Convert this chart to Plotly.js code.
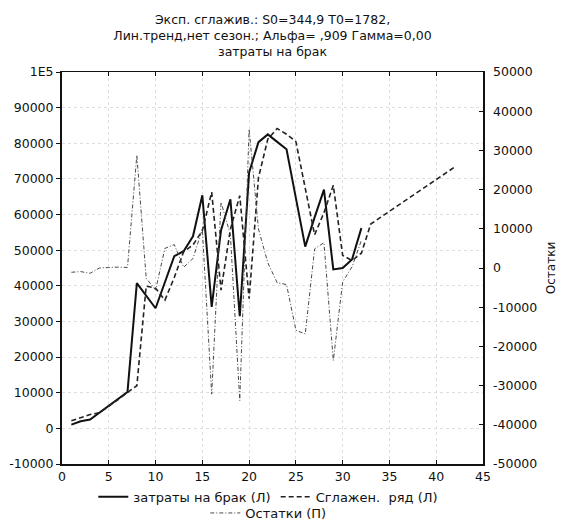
<!DOCTYPE html>
<html>
<head>
<meta charset="utf-8">
<script src="https://cdn.plot.ly/plotly-3.0.1.min.js"></script>
<style>
  html, body { margin: 0; padding: 0; background: #ffffff; }
  #chart { width: 567px; height: 524px; }
</style>
</head>
<body>
<div id="chart"></div>
<script>
// Observed periods and the forecast horizon (10 steps past the last observation)
const periods = [1, 2, 3, 4, 5, 6, 7, 8, 9, 10, 11, 12, 13, 14, 15, 16,
                 17, 18, 19, 20, 21, 22, 23, 24, 25, 26, 27, 28, 29, 30, 31, 32];
const forecastPeriods = [1, 2, 3, 4, 5, 6, 7, 8, 9, 10, 11, 12, 13, 14, 15, 16,
                         17, 18, 19, 20, 21, 22, 23, 24, 25, 26, 27, 28, 29, 30, 31, 32,
                         33, 34, 35, 36, 37, 38, 39, 40, 41, 42];

// затраты на брак (left axis)
const defectCosts = [1040, 2000, 2500, 4400, 6300, 8300, 10200, 40760, 37300, 33700,
                     41000, 48300, 49700, 53900, 65400, 34100, 55600, 64300, 31500, 71800,
                     80300, 82500, 80400, 78300, 64600, 51000, 59200, 67000, 44600, 45000,
                     47400, 56200];

// Сглаженный ряд: one-step forecasts, then the linear-trend continuation (left axis)
const smoothedSeries = [2127, 2921, 3866, 4406, 6183, 8071, 10061, 11969, 39922, 39321,
                        35994, 42326, 49538, 51467, 55461, 66278, 38810, 55854, 65313, 36359,
                        70357, 81177, 84162, 82524, 80466, 67826, 54313, 60537, 68194, 48529,
                        47103, 49155, 57341, 59123, 60905, 62687, 64469, 66251, 68033, 69815,
                        71597, 73379];

// Остатки (right axis)
const residuals = [-1087, -921, -1366, -6, 117, 229, 139, 28791, -2622, -5621,
                   5007, 5974, 162, 2433, 9939, -32178, 16790, 8446, -33813, 35441,
                   9943, 1323, -3762, -4224, -15866, -16826, 4887, 6463, -23594, -3529,
                   297, 7045];

// Axis ticks
const xTickVals = [0, 5, 10, 15, 20, 25, 30, 35, 40, 45];
const leftTickVals = [-10000, 0, 10000, 20000, 30000, 40000, 50000, 60000, 70000, 80000, 90000, 100000];
const leftTickText = ['-10000', '0', '10000', '20000', '30000', '40000', '50000',
                      '60000', '70000', '80000', '90000', '1E5'];
const rightTickVals = [-50000, -40000, -30000, -20000, -10000, 0, 10000, 20000, 30000, 40000, 50000];
const rightTickText = ['-50000', '-40000', '-30000', '-20000', '-10000', '0',
                       '10000', '20000', '30000', '40000', '50000'];

const titleLines = [
  'Эксп. сглажив.: S0=344,9 T0=1782,',
  'Лин.тренд,нет сезон.; Альфа= ,909 Гамма=0,00',
  'затраты на брак'
];

const FONT = 'DejaVu Sans, Verdana, sans-serif';
const INK = '#111111';

const traces = [
  {
    x: periods, y: residuals, yaxis: 'y2',
    name: 'Остатки (П)', legend: 'legend2',
    mode: 'lines',
    line: { color: '#4a4a4a', width: 1, dash: '4px,2px,1px,2px' }
  },
  {
    x: periods, y: defectCosts, yaxis: 'y',
    name: 'затраты на брак (Л)', legend: 'legend',
    mode: 'lines',
    line: { color: INK, width: 2 }
  },
  {
    x: forecastPeriods, y: smoothedSeries, yaxis: 'y',
    name: 'Сглажен.  ряд (Л)', legend: 'legend',
    mode: 'lines',
    line: { color: '#222222', width: 1.6, dash: '5px,3px' }
  }
];

const gridStyle = { showgrid: true, gridcolor: '#dedede', griddash: 'dot', gridwidth: 1 };

const layout = {
  width: 567, height: 524,
  paper_bgcolor: '#ffffff', plot_bgcolor: '#ffffff',
  margin: { l: 62, r: 84, t: 72, b: 60, pad: 0, autoexpand: false },
  font: { family: FONT, color: INK, size: 12 },
  title: {
    text: titleLines.join('<br>'),
    font: { family: FONT, size: 12.5, color: INK },
    xref: 'paper', x: 0.5, xanchor: 'center',
    yref: 'container', y: 0.955, yanchor: 'top'
  },
  xaxis: Object.assign({
    range: [0, 45], tickvals: xTickVals,
    ticks: 'inside', ticklen: 4, tickcolor: INK,
    showline: true, linecolor: INK, linewidth: 1.5, mirror: 'ticks',
    zeroline: false, tickfont: { size: 12.5 }
  }, gridStyle),
  yaxis: Object.assign({
    range: [-10000, 100000], tickvals: leftTickVals, ticktext: leftTickText,
    ticks: 'outside', ticklen: 4, tickcolor: INK,
    showline: true, linecolor: INK, linewidth: 2, mirror: true,
    zeroline: false, tickfont: { size: 12.5 }
  }, gridStyle),
  yaxis2: {
    overlaying: 'y', side: 'right',
    range: [-50000, 50000], tickvals: rightTickVals, ticktext: rightTickText,
    ticks: 'inside', ticklen: 4, tickcolor: INK, ticklabelstandoff: 6,
    showline: true, linecolor: INK, linewidth: 1.5,
    showgrid: false, zeroline: false, tickfont: { size: 12.5 },
    title: { text: 'Остатки', font: { size: 12, color: INK }, standoff: 10 }
  },
  showlegend: true,
  legend: {
    orientation: 'h', xref: 'paper', x: 0.49, xanchor: 'center',
    yref: 'container', y: 0.052, yanchor: 'middle',
    font: { size: 13, color: INK }, bgcolor: 'rgba(0,0,0,0)',
    itemwidth: 30, tracegroupgap: 0
  },
  legend2: {
    orientation: 'h', xref: 'paper', x: 0.49, xanchor: 'center',
    yref: 'container', y: 0.021, yanchor: 'middle',
    font: { size: 13, color: INK }, bgcolor: 'rgba(0,0,0,0)',
    itemwidth: 30
  }
};

Plotly.newPlot('chart', traces, layout, { displayModeBar: false, staticPlot: true });
</script>
</body>
</html>
